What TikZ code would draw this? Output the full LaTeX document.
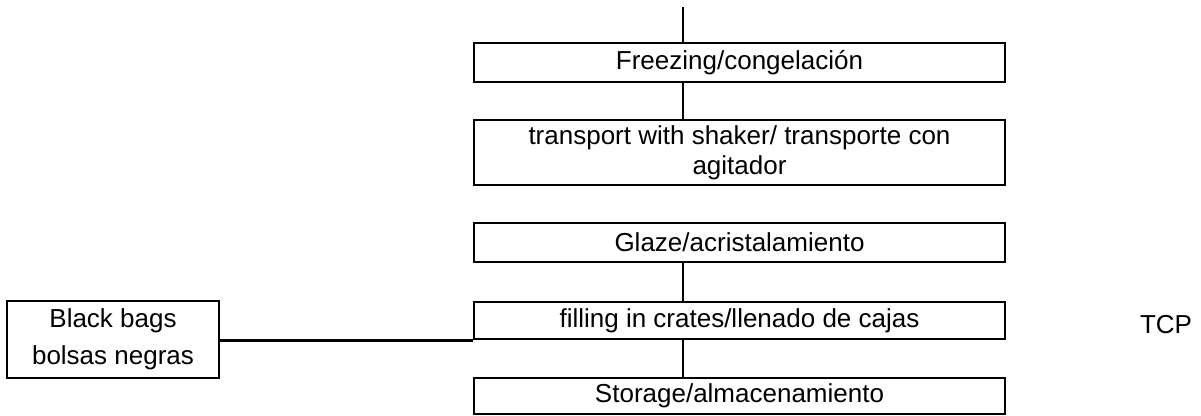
\documentclass[tikz,border=0pt]{standalone}
\usepackage{fontspec}
\setmainfont{Liberation Sans}
\begin{document}
\begin{tikzpicture}[x=0.75pt,y=-0.75pt,
  every node/.style={font=\fontsize{19.5pt}{22.5pt}\selectfont},
  stepbox/.style={draw,line width=2pt,inner sep=0pt,minimum width=398.25pt,align=center},
  thin link/.style={line width=1.2pt},
  thick link/.style={line width=2pt}]
\useasboundingbox (0,0) rectangle (1201,416);

% process column
\node[stepbox,minimum height=29.25pt] (frz) at (739.5,62.5) {Freezing/congelación};
\node[stepbox,minimum height=48.75pt] (trn) at (739.5,152.5) {transport with shaker/ transporte con\\agitador};
\node[stepbox,minimum height=29.25pt] (glz) at (739.5,242.5) {Glaze/acristalamiento};
\node[stepbox,minimum height=27.75pt] (fil) at (739.5,320.5) {filling in crates/llenado de cajas};
\node[stepbox,minimum height=27pt] (sto) at (739.5,396) {Storage/almacenamiento};

% side input
\node[draw,line width=2pt,inner sep=0pt,minimum width=159pt,minimum height=57.75pt,align=center,
      font=\fontsize{19.5pt}{27.75pt}\selectfont] (bag) at (113,339.5) {Black bags\\bolsas negras};

\node[anchor=base] (tcp) at (1166,333) {TCP};

% connectors
\coordinate (in) at (683,7);
\draw[thin link] (in) -- (in |- frz.north);
\draw[thin link] (in |- frz.south) -- (in |- trn.north);
\draw[thick link] (in |- glz.south) -- (in |- fil.north);
\draw[thick link] (in |- fil.south) -- (in |- sto.north);
\draw[thick link] (bag.east |- fil.south) -- (fil.south west);
\end{tikzpicture}
\end{document}
